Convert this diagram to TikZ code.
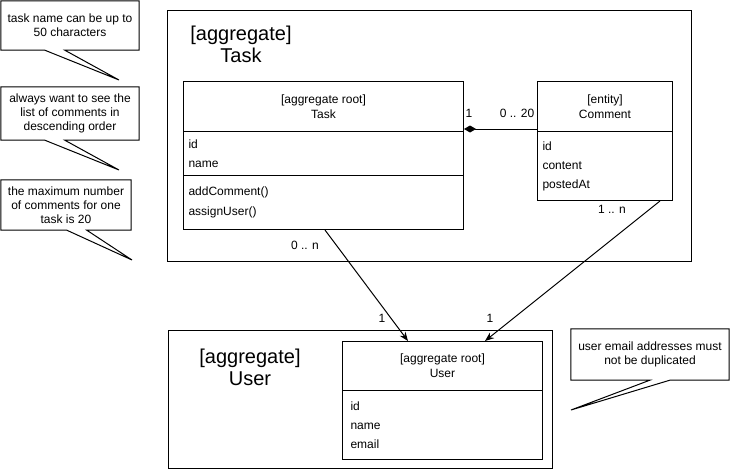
\documentclass[tikz,border=0pt]{standalone}
\usepackage{fontspec}
\setmainfont{Liberation Sans}
\usetikzlibrary{arrows.meta}
\tikzstyle{txt} = [inner sep=0pt, font={\fontsize{12}{14}\selectfont}]
\tikzstyle{title} = [align=center, inner sep=0pt, font={\fontsize{20}{22}\selectfont}]
\tikzstyle{agg} = [draw=black, line width=1pt, anchor=north west, inner sep=0pt]
\tikzstyle{head} = [draw=black, line width=1pt, anchor=north west, align=center, inner sep=0pt, font={\fontsize{12}{15}\selectfont}]
\tikzstyle{fields} = [draw=black, line width=1pt, anchor=north west, align=left, inner xsep=5pt, inner ysep=0pt, font={\fontsize{12}{19}\selectfont}]
\tikzstyle{note} = [align=center, inner sep=0pt, font={\fontsize{12}{14}\selectfont}]
\tikzstyle{link} = [line width=1pt, -{Stealth[length=9pt,width=7pt]}]

\begin{document}
\begin{tikzpicture}[x=1pt,y=-1pt]
        \useasboundingbox (0,0) rectangle (742,471);
        % Task aggregate
        \node[agg, minimum width=524pt, minimum height=251pt](taskagg) at (167,10){};
        \node[title](tasktitle) at (241,44){[aggregate]\\Task};
        \node[head, minimum width=280pt, minimum height=50pt](taskh) at (183,81){[aggregate root]\\Task};
        \node[fields, text width=270pt, minimum height=44pt](taskf) at (183,131){id\\name};
        \node[fields, text width=270pt, minimum height=54pt, font={\fontsize{12}{20}\selectfont}](taskm) at (183,175){addComment()\\assignUser()};
        \node[head, minimum width=135pt, minimum height=50pt](commenth) at (537,81){[entity]\\Comment};
        \node[fields, text width=125pt, minimum height=69pt](commentf) at (537,131){id\\content\\postedAt};
        % User aggregate
        \node[agg, minimum width=384pt, minimum height=138pt](useragg) at (168,330){};
        \node[title](usertitle) at (250,367){[aggregate]\\User};
        \node[head, minimum width=200pt, minimum height=49pt](userh) at (342,341){[aggregate root]\\User};
        \node[fields, inner xsep=8pt, text width=184pt, minimum height=69pt](userf) at (342,390){id\\name\\email};
        % connectors
        \draw[line width=1pt, {Diamond[length=12pt,width=7pt]}-]([yshift=3pt]taskh.south east)--([yshift=3pt]commenth.south west);
        \draw[link]([xshift=142pt]taskm.south west)--([xshift=66pt]userh.north west);
        \draw[link]([xshift=123pt]commentf.south west)--([xshift=143pt]userh.north west);
        \node[txt](m1) at (469,113){1};
        \node[txt](m2) at (517,113){0 .. 20};
        \node[txt](m3) at (612,209){1 .. n};
        \node[txt](m4) at (305,245){0 .. n};
        \node[txt](m5) at (382,318){1};
        \node[txt](m6) at (490,318){1};
        % notes
        \node[note, minimum width=138pt, minimum height=49pt](note1) at (70,25.5){task name can be up to\\50 characters};
        \coordinate(tip1) at (119,80);
        \draw[line width=1pt](note1.south west)--(note1.north west)--(note1.north east)--(note1.south east)--([xshift=64pt]note1.south west)--(tip1)--([xshift=44pt]note1.south west)--cycle;
        \node[note, minimum width=138pt, minimum height=53pt](note2) at (70,113.5){always want to see the\\list of comments in\\descending order};
        \coordinate(tip2) at (119,170);
        \draw[line width=1pt](note2.south west)--(note2.north west)--(note2.north east)--(note2.south east)--([xshift=64pt]note2.south west)--(tip2)--([xshift=44pt]note2.south west)--cycle;
        \node[note, minimum width=130pt, minimum height=50pt](note3) at (66,205){the maximum number\\of comments for one\\task is 20};
        \coordinate(tip3) at (132,260);
        \draw[line width=1pt](note3.south west)--(note3.north west)--(note3.north east)--(note3.south east)--([xshift=86pt]note3.south west)--(tip3)--([xshift=66pt]note3.south west)--cycle;
        \node[note, minimum width=158pt, minimum height=51pt](note4) at (650,354.5){user email addresses must\\not be duplicated};
        \coordinate(tip4) at (571,410);
        \draw[line width=1pt](note4.south west)--(note4.north west)--(note4.north east)--(note4.south east)--([xshift=99pt]note4.south west)--(tip4)--([xshift=79pt]note4.south west)--cycle;
      \end{tikzpicture}
\end{document}
